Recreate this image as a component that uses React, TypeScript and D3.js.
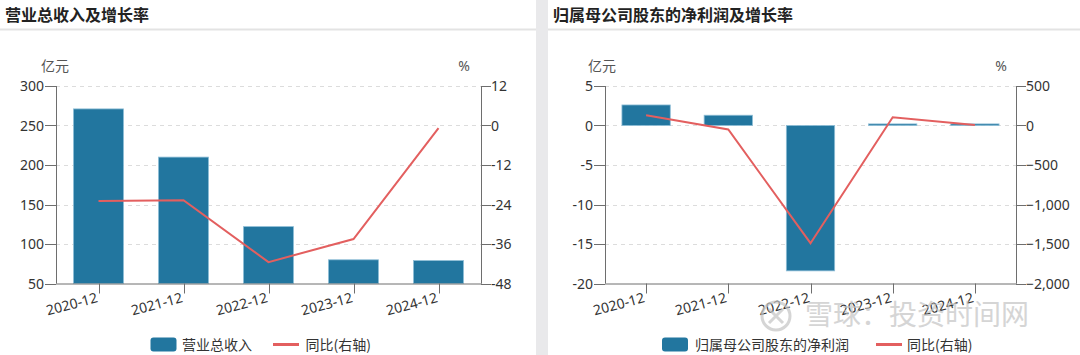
import React from "react";
import * as d3 from "d3";

const categories = ["2020-12", "2021-12", "2022-12", "2023-12", "2024-12"];
const revenue = [271, 210, 122, 80, 79];
const revenueYoY = [-22.9, -22.7, -41.5, -34.5, -0.8];
const profit = [2.6, 1.3, -18.4, 0.2, 0.2];
const profitYoY = [130, -50, -1490, 105, 5];

const revLeftTicks = [50, 100, 150, 200, 250, 300];
const revRightTicks = [-48, -36, -24, -12, 0, 12];
const profLeftTicks = [-20, -15, -10, -5, 0, 5];
const profRightTicks = [-2000, -1500, -1000, -500, 0, 500];

const BAR = "#22769f";
const LINE = "#e35f5f";
const AXIS = "#6e6e6e";
const TXT = "#333";
const NUMFONT = "'Noto Sans', 'Noto Sans CJK SC', sans-serif";
const CJK = "'Noto Sans CJK SC', sans-serif";

const TOP = 86;
const BOTTOM = 283.5;

type ChartProps = {
  px: number;
  pw: number;
  title: string;
  left: number;
  right: number;
  bars: number[];
  line: number[];
  lTicks: number[];
  rTicks: number[];
  rFormat: (v: number) => string;
  unitX: number;
  pctX: number;
  barName: string;
  legRect: number;
  legText: number;
  legLine: number;
  legLineText: number;
};

function Chart(p: ChartProps) {
  const x = d3
    .scaleBand<string>()
    .domain(categories)
    .range([p.left, p.right])
    .paddingInner(0.4)
    .paddingOuter(0.2);
  const yl = d3
    .scaleLinear()
    .domain([p.lTicks[0], p.lTicks[p.lTicks.length - 1]])
    .range([BOTTOM, TOP]);
  const yr = d3
    .scaleLinear()
    .domain([p.rTicks[0], p.rTicks[p.rTicks.length - 1]])
    .range([BOTTOM, TOP]);
  const base = Math.max(p.lTicks[0], 0);
  const cx = (c: string) => (x(c) as number) + x.bandwidth() / 2;
  const lineGen = d3
    .line<number>()
    .x((_, i) => cx(categories[i]))
    .y((d) => yr(d));

  return (
    <g>
      <rect x={p.px} y={0} width={p.pw} height={355} fill="#fff" />
      <text
        x={p.px + 5}
        y={21}
        fontFamily={CJK}
        fontWeight="bold"
        fontSize={16}
        fill="#222"
      >
        {p.title}
      </text>
      <line x1={p.px} x2={p.px + p.pw} y1={29.5} y2={29.5} stroke="#e3e3e3" strokeWidth={2} />

      {p.lTicks.slice(1).map((t) => (
        <line
          key={"g" + t}
          x1={p.left}
          x2={p.right}
          y1={Math.round(yl(t)) + 0.5}
          y2={Math.round(yl(t)) + 0.5}
          stroke="#dcdcdc"
          strokeDasharray="4,4"
        />
      ))}

      {p.bars.map((v, i) => {
        const c = categories[i];
        const y0 = yl(Math.max(v, base));
        const y1 = yl(Math.min(v, base));
        return (
          <rect
            key={"b" + i}
            x={(x(c) as number) + 0.5}
            y={y0}
            width={x.bandwidth() - 1}
            height={Math.max(1, y1 - y0)}
            fill={BAR}
            stroke="#8dbdd6"
            strokeWidth={0.8}
          />
        );
      })}

      <path d={lineGen(p.line) || ""} fill="none" stroke={LINE} strokeWidth={2} />

      <line x1={p.left + 0.5} x2={p.left + 0.5} y1={TOP} y2={BOTTOM} stroke={AXIS} />
      {p.lTicks.map((t) => (
        <g key={"l" + t}>
          <line
            x1={p.left - 11}
            x2={p.left}
            y1={Math.round(yl(t)) + 0.5}
            y2={Math.round(yl(t)) + 0.5}
            stroke={AXIS}
          />
          <text
            x={p.left - 12}
            y={yl(t) + 5}
            textAnchor="end"
            fontFamily={NUMFONT}
            fontSize={14}
            fill={TXT}
          >
            {t}
          </text>
        </g>
      ))}

      <line x1={p.right + 0.5} x2={p.right + 0.5} y1={TOP} y2={BOTTOM} stroke={AXIS} />
      {p.rTicks.map((t) => (
        <g key={"r" + t}>
          <line
            x1={p.right}
            x2={p.right + 10}
            y1={Math.round(yr(t)) + 0.5}
            y2={Math.round(yr(t)) + 0.5}
            stroke={AXIS}
          />
          <text
            x={p.right + 10}
            y={yr(t) + 5}
            textAnchor="start"
            fontFamily={NUMFONT}
            fontSize={14}
            fill={TXT}
          >
            {p.rFormat(t)}
          </text>
        </g>
      ))}

      <line x1={p.left} x2={p.right + 1} y1={BOTTOM + 0.5} y2={BOTTOM + 0.5} stroke={AXIS} />
      {categories.map((c) => {
        const tx = Math.round(cx(c)) + 0.5;
        return (
          <g key={"x" + c}>
            <line x1={tx} x2={tx} y1={BOTTOM} y2={BOTTOM + 10} stroke={AXIS} />
            <text
              x={tx - 1}
              y={302}
              textAnchor="end"
              fontFamily={NUMFONT}
              fontSize={14}
              fill={TXT}
              transform={`rotate(-15, ${tx - 1}, 302)`}
            >
              {c}
            </text>
          </g>
        );
      })}

      <text x={p.unitX} y={71} textAnchor="middle" fontFamily={CJK} fontSize={14} fill="#555">
        亿元
      </text>
      <text x={p.pctX} y={71} textAnchor="middle" fontFamily={NUMFONT} fontSize={14} fill="#555">
        %
      </text>

      <rect x={p.legRect} y={337.5} width={26} height={14} rx={3} fill={BAR} />
      <text x={p.legText} y={349.5} fontFamily={CJK} fontSize={14} fill={TXT}>
        {p.barName}
      </text>
      <line x1={p.legLine} x2={p.legLine + 26} y1={344.5} y2={344.5} stroke={LINE} strokeWidth={3} />
      <text x={p.legLineText} y={349.5} fontFamily={CJK} fontSize={14} fill={TXT}>
        同比(右轴)
      </text>
    </g>
  );
}

export default function App() {
  const fmtR = d3.format(",");
  return (
    <svg
      width={1080}
      height={355}
      style={{ position: "fixed", left: 0, top: 0, display: "block" }}
    >
      <rect x={0} y={0} width={1080} height={355} fill="#e9e9eb" />
      <Chart
        px={0}
        pw={536}
        title="营业总收入及增长率"
        left={56}
        right={481}
        bars={revenue}
        line={revenueYoY}
        lTicks={revLeftTicks}
        rTicks={revRightTicks}
        rFormat={(v) => String(v)}
        unitX={55}
        pctX={464}
        barName="营业总收入"
        legRect={150.5}
        legText={182}
        legLine={273}
        legLineText={305.5}
      />
      <Chart
        px={548}
        pw={532}
        title="归属母公司股东的净利润及增长率"
        left={605}
        right={1016}
        bars={profit}
        line={profitYoY}
        lTicks={profLeftTicks}
        rTicks={profRightTicks}
        rFormat={(v) => fmtR(v)}
        unitX={602}
        pctX={1001}
        barName="归属母公司股东的净利润"
        legRect={662}
        legText={695}
        legLine={876}
        legLineText={907}
      />
      <g opacity={0.7}>
        <circle cx={776} cy={316} r={14} fill="none" stroke="#c4c4c4" strokeWidth={3} />
        <path d="M769 309 L783 323 M783 309 L769 323" stroke="#c4c4c4" strokeWidth={3} />
        <text x={805} y={325} fontFamily={CJK} fontSize={28} fill="#c4c4c4">
          雪球：投资时间网
        </text>
      </g>
    </svg>
  );
}
